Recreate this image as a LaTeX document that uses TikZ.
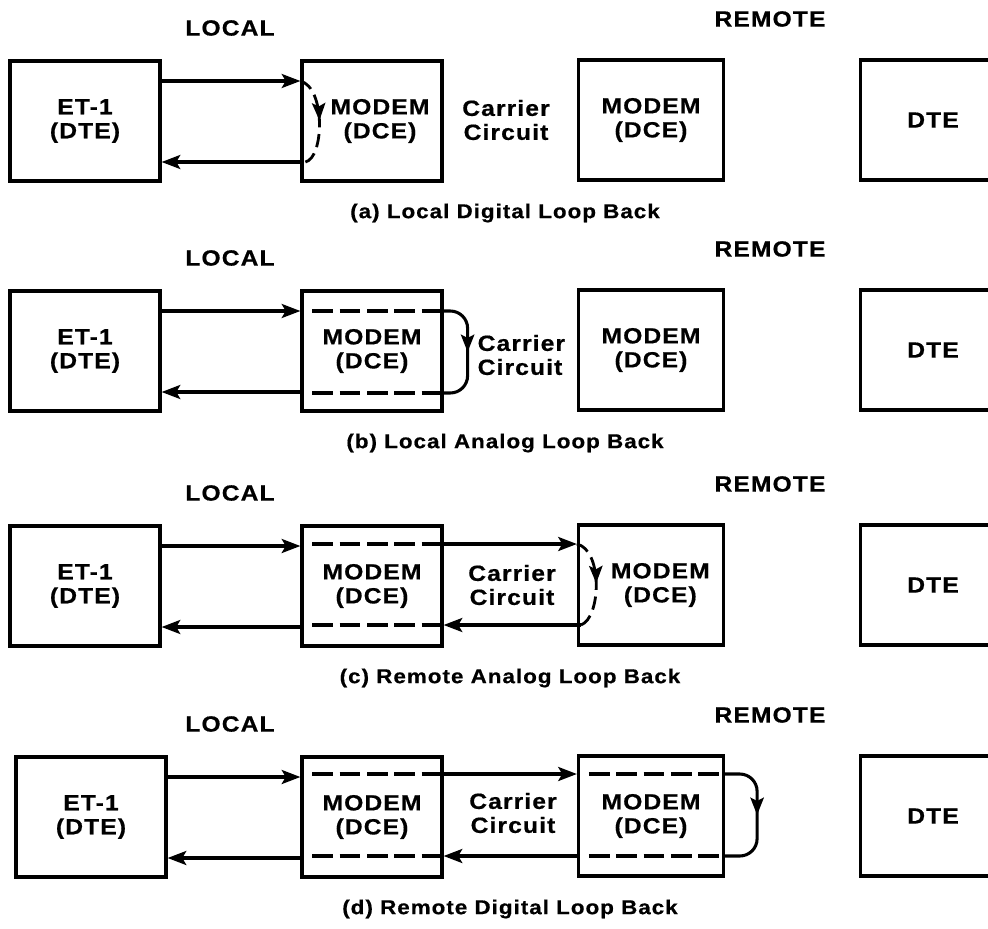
\documentclass[tikz,border=0pt]{standalone}
\usepackage{fontspec}
\setmainfont{Liberation Sans}[FakeStretch=1.12,LetterSpace=5,BoldFeatures={FakeBold=0.6}]
\usetikzlibrary{arrows.meta,calc,decorations.markings}

\begin{document}
\begin{tikzpicture}[x=0.75pt,y=-0.75pt,>={Stealth[length=14pt,width=10.5pt,inset=3pt]},
  font=\bfseries\fontsize{16.5}{18}\selectfont,
  box/.style={draw,line width=2.4pt,align=center,minimum height=90pt,inner sep=0pt},
  conn/.style={line width=2.3pt},
  dashline/.style={line width=2.3pt,dash pattern=on 15.5pt off 5pt},
  dasharc/.style={line width=2.1pt,dash pattern=on 10pt off 5pt},
  midarrow/.style={postaction={decorate},decoration={markings,
    mark=at position 0.5 with {\arrow{Stealth[length=13pt,width=10pt,inset=2.5pt]}}}},
  caption/.style={font=\bfseries\fontsize{15}{16}\selectfont}]
\useasboundingbox (0,0) rectangle (988,928);
% ---- the four panels: boxes, labels, ET-1 <-> local modem ----
\foreach \p/\t/\ex/\cx/\ls/\rs/\cap in {a/61/85/505/12pt/0pt/{(a) Local Digital Loop Back},
    b/291/85/505/0pt/0pt/{(b) Local Analog Loop Back},
    c/526/85/510/0pt/14pt/{(c) Remote Analog Loop Back},
    d/757/91/510/0pt/0pt/{(d) Remote Digital Loop Back}}{
  \node (loc\p) at (230,\t-33) {LOCAL};
  \node (rem\p) at (770,\t-42) {REMOTE};
  \node[box,minimum width=112.5pt] (et\p) at (\ex,\t+60) {ET-1\\(DTE)};
  \node[box,minimum width=105pt] (lm\p) at (372,\t+60) {\hspace*{\ls}MODEM\\\hspace*{\ls}(DCE)};
  \node[box,minimum width=108.75pt] (rm\p) at (651,\t+59) {\hspace*{\rs}MODEM\\\hspace*{\rs}(DCE)};
  \node[box,minimum width=108.75pt] (dte\p) at (933,\t+59) {DTE};
  \node[caption] (cap\p) at (\cx,\t+152) {\cap};
  \draw[conn,->] (et\p.east |- 0,\t+20) -- (lm\p.west |- 0,\t+20);
  \draw[conn,->] (lm\p.west |- 0,\t+101) -- (et\p.east |- 0,\t+101);
}
% ---- carrier circuit labels ----
\node[align=center] (cca) at (506,120) {Carrier\\Circuit};
\node[align=left,anchor=west] (ccb) at (473,355) {Carrier\\Circuit};
\node[align=center] (ccc) at (512,585) {Carrier\\Circuit};
\node[align=center] (ccd) at (513,813) {Carrier\\Circuit};
% ---- (a) local digital loop ----
\draw[dasharc,midarrow] (lma.west |- 0,81) .. controls (326,88) and (324,158) .. ([xshift=3.75pt]lma.west |- 0,162);
% ---- (b) local analog loop ----
\draw[dashline] ([xshift=9pt]lmb.west |- 0,311) -- (lmb.east |- 0,311);
\draw[dashline] ([xshift=9pt]lmb.west |- 0,393) -- (lmb.east |- 0,393);
\draw[conn,midarrow,rounded corners=13pt] (lmb.east |- 0,311) -| ($(lmb.east)+(24,0)$) |- (lmb.east |- 0,393);
% ---- (c) remote analog loop ----
\draw[dashline] ([xshift=9pt]lmc.west |- 0,544) -- ([xshift=-3pt]lmc.east |- 0,544);
\draw[dashline] ([xshift=9pt]lmc.west |- 0,625) -- ([xshift=-3pt]lmc.east |- 0,625);
\draw[conn,->] (lmc.east |- 0,544) -- (rmc.west |- 0,544);
\draw[conn,->] ([xshift=3pt]rmc.west |- 0,625) -- (lmc.east |- 0,625);
\draw[dasharc,midarrow] (rmc.west |- 0,544) .. controls (603,550) and (601,618) .. ([xshift=3pt]rmc.west |- 0,625);
% ---- (d) remote digital loop ----
\foreach \m in {lmd,rmd}{
  \draw[dashline] ([xshift=9pt]\m.west |- 0,774) -- (\m.east |- 0,774);
  \draw[dashline] ([xshift=9pt]\m.west |- 0,856) -- (\m.east |- 0,856);
}
\draw[conn,->] (lmd.east |- 0,774) -- (rmd.west |- 0,774);
\draw[conn,->] (rmd.west |- 0,856) -- (lmd.east |- 0,856);
\draw[conn,midarrow,rounded corners=13pt] (rmd.east |- 0,774) -| ($(rmd.east)+(32,0)$) |- (rmd.east |- 0,856);
\end{tikzpicture}
\end{document}
